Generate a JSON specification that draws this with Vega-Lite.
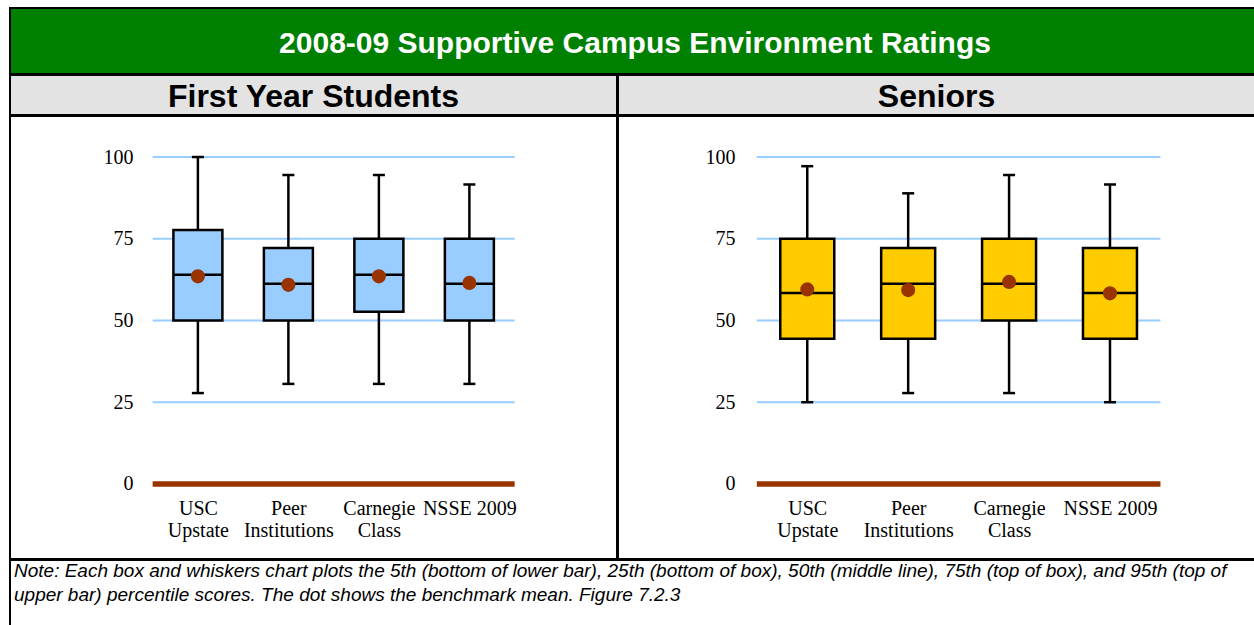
{
  "$schema": "https://vega.github.io/schema/vega-lite/v6.json",
  "padding": {"left": 9, "top": 7, "right": 0, "bottom": 0},
  "background": "white",
  "spacing": -2,
  "config": {
    "view": {"stroke": "black", "strokeWidth": 2},
    "concat": {"spacing": -2},
    "font": "Liberation Sans"
  },
  "datasets": {
    "fy": [
      {"group": "USC Upstate", "idx": 1, "p5": 27.8, "p25": 50, "p50": 64, "p75": 77.7, "p95": 100, "mean": 63.5},
      {"group": "Peer Institutions", "idx": 2, "p5": 30.6, "p25": 50, "p50": 61.2, "p75": 72.2, "p95": 94.5, "mean": 60.9},
      {"group": "Carnegie Class", "idx": 3, "p5": 30.6, "p25": 52.7, "p50": 64, "p75": 75, "p95": 94.5, "mean": 63.5},
      {"group": "NSSE 2009", "idx": 4, "p5": 30.6, "p25": 50, "p50": 61.2, "p75": 75, "p95": 91.6, "mean": 61.5}
    ],
    "sr": [
      {"group": "USC Upstate", "idx": 1, "p5": 25, "p25": 44.4, "p50": 58.4, "p75": 75, "p95": 97.2, "mean": 59.5},
      {"group": "Peer Institutions", "idx": 2, "p5": 27.8, "p25": 44.4, "p50": 61.2, "p75": 72.2, "p95": 88.9, "mean": 59.3},
      {"group": "Carnegie Class", "idx": 3, "p5": 27.8, "p25": 50, "p50": 61.2, "p75": 75, "p95": 94.5, "mean": 61.8},
      {"group": "NSSE 2009", "idx": 4, "p5": 25, "p25": 44.4, "p50": 58.4, "p75": 72.2, "p95": 91.6, "mean": 58.3}
    ],
    "grid": [{"v": 25}, {"v": 50}, {"v": 75}, {"v": 100}]
  },
  "vconcat": [
    {
      "width": 1250,
      "height": 66,
      "view": {"fill": "#008000", "stroke": "black", "strokeWidth": 2},
      "data": {"values": [{"t": "2008-09 Supportive Campus Environment Ratings"}]},
      "mark": {"type": "text", "font": "Liberation Sans", "fontWeight": "bold", "fontSize": 30, "color": "white", "dy": 3},
      "encoding": {"text": {"field": "t", "type": "nominal"}}
    },
    {
      "hconcat": [
        {
          "vconcat": [
            {
              "width": 607,
              "height": 40,
              "view": {"fill": "#E3E3E3", "stroke": "black", "strokeWidth": 2},
              "data": {"values": [{"t": "First Year Students"}]},
              "mark": {"type": "text", "font": "Liberation Sans", "fontWeight": "bold", "fontSize": 32, "color": "black", "dy": 2},
              "encoding": {"text": {"field": "t", "type": "nominal"}}
            },
            {
              "width": 607,
              "height": 443,
              "data": {"name": "fy"},
              "layer": [
                {
                  "data": {"name": "grid"},
                  "mark": {"type": "rule", "color": "#99CCFF", "strokeWidth": 2},
                  "encoding": {
                    "y": {
                      "field": "v", "type": "quantitative",
                      "scale": {"domain": [-22.96, 112.55], "nice": false, "zero": false},
                      "axis": {
                        "values": [0, 25, 50, 75, 100],
                        "orient": "left", "offset": -125, "domain": false, "ticks": false, "tickSize": 0, "grid": false,
                        "labelPadding": 2, "labelFont": "Liberation Serif", "labelFontSize": 20, "labelColor": "black",
                        "labelOverlap": false, "labelFlush": false, "labelBound": false, "title": null
                      }
                    },
                    "x": {
                      "datum": 0.5, "type": "quantitative",
                      "scale": {"domain": [-1.021, 5.576], "nice": false, "zero": false},
                      "axis": {
                        "values": [1, 2, 3, 4],
                        "labelExpr": "datum.value == 1 ? ['USC', 'Upstate'] : datum.value == 2 ? ['Peer', 'Institutions'] : datum.value == 3 ? ['Carnegie', 'Class'] : datum.value == 4 ? 'NSSE 2009' : ''",
                        "orient": "bottom", "offset": -45, "domain": false, "ticks": false, "tickSize": 0, "grid": false,
                        "labelPadding": 0, "labelBaseline": "alphabetic", "labelAlign": "center",
                        "labelFont": "Liberation Serif", "labelFontSize": 20, "labelColor": "black", "labelLineHeight": 22,
                        "labelOverlap": false, "labelFlush": false, "labelBound": false, "title": null
                      }
                    },
                    "x2": {"datum": 4.5}
                  }
                },
                {
                  "data": {"values": [{"base": 0}]},
                  "mark": {"type": "rule", "color": "#993300", "strokeWidth": 5.5},
                  "encoding": {
                    "y": {"field": "base", "type": "quantitative"},
                    "x": {"datum": 0.5, "type": "quantitative"},
                    "x2": {"datum": 4.5}
                  }
                },
                {
                  "mark": {"type": "rule", "color": "black", "strokeWidth": 2.5},
                  "encoding": {
                    "x": {"field": "idx", "type": "quantitative"},
                    "y": {"field": "p5", "type": "quantitative"},
                    "y2": {"field": "p95"}
                  }
                },
                {
                  "mark": {"type": "tick", "orient": "horizontal", "color": "black", "size": 12, "thickness": 2.5, "opacity": 1},
                  "encoding": {
                    "x": {"field": "idx", "type": "quantitative"},
                    "y": {"field": "p5", "type": "quantitative"}
                  }
                },
                {
                  "mark": {"type": "tick", "orient": "horizontal", "color": "black", "size": 12, "thickness": 2.5, "opacity": 1},
                  "encoding": {
                    "x": {"field": "idx", "type": "quantitative"},
                    "y": {"field": "p95", "type": "quantitative"}
                  }
                },
                {
                  "mark": {"type": "bar", "fill": "#99CCFF", "stroke": "black", "strokeWidth": 2.5, "size": 49, "opacity": 1},
                  "encoding": {
                    "x": {"field": "idx", "type": "quantitative"},
                    "y": {"field": "p25", "type": "quantitative"},
                    "y2": {"field": "p75"}
                  }
                },
                {
                  "mark": {"type": "tick", "orient": "horizontal", "color": "black", "size": 49, "thickness": 2.5, "opacity": 1},
                  "encoding": {
                    "x": {"field": "idx", "type": "quantitative"},
                    "y": {"field": "p50", "type": "quantitative"}
                  }
                },
                {
                  "mark": {"type": "circle", "color": "#993300", "size": 200, "opacity": 1},
                  "encoding": {
                    "x": {"field": "idx", "type": "quantitative"},
                    "y": {"field": "mean", "type": "quantitative"}
                  }
                }
              ]
            }
          ],
          "spacing": -2
        },
        {
          "vconcat": [
            {
              "width": 643,
              "height": 40,
              "view": {"fill": "#E3E3E3", "stroke": "black", "strokeWidth": 2},
              "data": {"values": [{"t": "Seniors"}]},
              "mark": {"type": "text", "font": "Liberation Sans", "fontWeight": "bold", "fontSize": 32, "color": "black", "dy": 2, "dx": -3},
              "encoding": {"text": {"field": "t", "type": "nominal"}}
            },
            {
              "width": 643,
              "height": 443,
              "data": {"name": "sr"},
              "layer": [
                {
                  "data": {"name": "grid"},
                  "mark": {"type": "rule", "color": "#99CCFF", "strokeWidth": 2},
                  "encoding": {
                    "y": {
                      "field": "v", "type": "quantitative",
                      "scale": {"domain": [-22.96, 112.55], "nice": false, "zero": false},
                      "axis": {
                        "values": [0, 25, 50, 75, 100],
                        "orient": "left", "offset": -119, "domain": false, "ticks": false, "tickSize": 0, "grid": false,
                        "labelPadding": 2, "labelFont": "Liberation Serif", "labelFontSize": 20, "labelColor": "black",
                        "labelOverlap": false, "labelFlush": false, "labelBound": false, "title": null
                      }
                    },
                    "x": {
                      "datum": 0.5, "type": "quantitative",
                      "scale": {"domain": [-0.826, 5.447], "nice": false, "zero": false},
                      "axis": {
                        "values": [1, 2, 3, 4],
                        "labelExpr": "datum.value == 1 ? ['USC', 'Upstate'] : datum.value == 2 ? ['Peer', 'Institutions'] : datum.value == 3 ? ['Carnegie', 'Class'] : datum.value == 4 ? 'NSSE 2009' : ''",
                        "orient": "bottom", "offset": -45, "domain": false, "ticks": false, "tickSize": 0, "grid": false,
                        "labelPadding": 0, "labelBaseline": "alphabetic", "labelAlign": "center",
                        "labelFont": "Liberation Serif", "labelFontSize": 20, "labelColor": "black", "labelLineHeight": 22,
                        "labelOverlap": false, "labelFlush": false, "labelBound": false, "title": null
                      }
                    },
                    "x2": {"datum": 4.5}
                  }
                },
                {
                  "data": {"values": [{"base": 0}]},
                  "mark": {"type": "rule", "color": "#993300", "strokeWidth": 5.5},
                  "encoding": {
                    "y": {"field": "base", "type": "quantitative"},
                    "x": {"datum": 0.5, "type": "quantitative"},
                    "x2": {"datum": 4.5}
                  }
                },
                {
                  "mark": {"type": "rule", "color": "black", "strokeWidth": 2.5},
                  "encoding": {
                    "x": {"field": "idx", "type": "quantitative"},
                    "y": {"field": "p5", "type": "quantitative"},
                    "y2": {"field": "p95"}
                  }
                },
                {
                  "mark": {"type": "tick", "orient": "horizontal", "color": "black", "size": 12, "thickness": 2.5, "opacity": 1},
                  "encoding": {
                    "x": {"field": "idx", "type": "quantitative"},
                    "y": {"field": "p5", "type": "quantitative"}
                  }
                },
                {
                  "mark": {"type": "tick", "orient": "horizontal", "color": "black", "size": 12, "thickness": 2.5, "opacity": 1},
                  "encoding": {
                    "x": {"field": "idx", "type": "quantitative"},
                    "y": {"field": "p95", "type": "quantitative"}
                  }
                },
                {
                  "mark": {"type": "bar", "fill": "#FFCC00", "stroke": "black", "strokeWidth": 2.5, "size": 54, "opacity": 1},
                  "encoding": {
                    "x": {"field": "idx", "type": "quantitative"},
                    "y": {"field": "p25", "type": "quantitative"},
                    "y2": {"field": "p75"}
                  }
                },
                {
                  "mark": {"type": "tick", "orient": "horizontal", "color": "black", "size": 54, "thickness": 2.5, "opacity": 1},
                  "encoding": {
                    "x": {"field": "idx", "type": "quantitative"},
                    "y": {"field": "p50", "type": "quantitative"}
                  }
                },
                {
                  "mark": {"type": "circle", "color": "#993300", "size": 200, "opacity": 1},
                  "encoding": {
                    "x": {"field": "idx", "type": "quantitative"},
                    "y": {"field": "mean", "type": "quantitative"}
                  }
                }
              ]
            }
          ],
          "spacing": -2
        }
      ],
      "spacing": -2
    },
    {
      "width": 1250,
      "height": 80,
      "data": {"values": [{"t": "Note: Each box and whiskers chart plots the 5th (bottom of lower bar), 25th (bottom of box), 50th (middle line), 75th (top of box), and 95th (top of\nupper bar) percentile scores. The dot shows the benchmark mean.  Figure 7.2.3"}]},
      "mark": {"type": "text", "font": "Liberation Sans", "fontStyle": "italic", "fontSize": 19, "color": "black", "align": "left", "baseline": "alphabetic", "lineBreak": "\n", "lineHeight": 24, "dx": 4, "dy": 17},
      "encoding": {
        "text": {"field": "t", "type": "nominal"},
        "x": {"datum": 0, "type": "quantitative", "scale": {"domain": [0, 1]}, "axis": null},
        "y": {"datum": 1, "type": "quantitative", "scale": {"domain": [0, 1]}, "axis": null}
      }
    }
  ]
}
